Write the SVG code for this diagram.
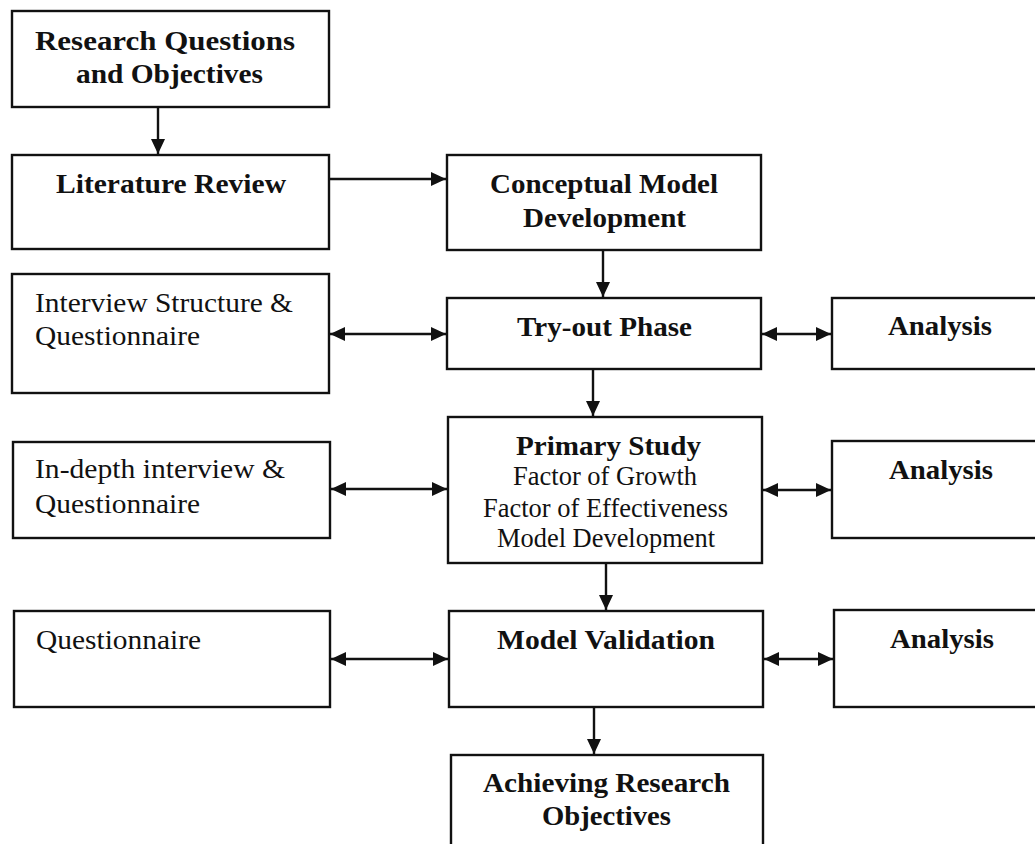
<svg xmlns="http://www.w3.org/2000/svg" width="1035" height="844" viewBox="0 0 1035 844">
<style>
.box{fill:#fff;stroke:#111;stroke-width:2.4}
.t{font-family:'Liberation Serif','Times New Roman',Times,serif;font-size:27px;fill:#111}
.b{font-weight:bold}
.c{stroke:#111;stroke-width:2.4;fill:none}
</style>
<defs>
<marker id="ah" markerUnits="userSpaceOnUse" markerWidth="16" markerHeight="15" refX="15" refY="7" orient="auto-start-reverse">
<path d="M0,0 L15,7 L0,14 Z" fill="#111"/>
</marker>
</defs>
<rect width="1035" height="844" fill="#fff"/>
<g id="connectors">
<line class="c" x1="158" y1="108" x2="158" y2="154" marker-end="url(#ah)"/>
<line class="c" x1="330" y1="179" x2="446" y2="179" marker-end="url(#ah)"/>
<line class="c" x1="603" y1="251" x2="603" y2="297" marker-end="url(#ah)"/>
<line class="c" x1="593" y1="370" x2="593" y2="416" marker-end="url(#ah)"/>
<line class="c" x1="606" y1="564" x2="606" y2="610" marker-end="url(#ah)"/>
<line class="c" x1="594" y1="708" x2="594" y2="754" marker-end="url(#ah)"/>
<line class="c" x1="330" y1="334" x2="446" y2="334" marker-start="url(#ah)" marker-end="url(#ah)"/>
<line class="c" x1="331" y1="489" x2="447" y2="489" marker-start="url(#ah)" marker-end="url(#ah)"/>
<line class="c" x1="331" y1="659" x2="448" y2="659" marker-start="url(#ah)" marker-end="url(#ah)"/>
<line class="c" x1="762" y1="334" x2="831" y2="334" marker-start="url(#ah)" marker-end="url(#ah)"/>
<line class="c" x1="763" y1="490" x2="831" y2="490" marker-start="url(#ah)" marker-end="url(#ah)"/>
<line class="c" x1="764" y1="659" x2="833" y2="659" marker-start="url(#ah)" marker-end="url(#ah)"/>
</g>
<g id="research-questions">
<rect class="box" x="12" y="11" width="317" height="96"/>
<text class="t b" x="35" y="50" textLength="260" lengthAdjust="spacingAndGlyphs">Research Questions</text>
<text class="t b" x="76" y="83" textLength="187" lengthAdjust="spacingAndGlyphs">and Objectives</text>
</g>
<g id="literature-review">
<rect class="box" x="12" y="155" width="317" height="94"/>
<text class="t b" x="56" y="193" textLength="230" lengthAdjust="spacingAndGlyphs">Literature Review</text>
</g>
<g id="conceptual-model">
<rect class="box" x="447" y="155" width="314" height="95"/>
<text class="t b" x="490" y="193" textLength="228" lengthAdjust="spacingAndGlyphs">Conceptual Model</text>
<text class="t b" x="523" y="227" textLength="163" lengthAdjust="spacingAndGlyphs">Development</text>
</g>
<g id="interview-structure">
<rect class="box" x="12" y="274" width="317" height="119"/>
<text class="t" x="35" y="312" textLength="258" lengthAdjust="spacingAndGlyphs">Interview Structure &amp;</text>
<text class="t" x="35" y="345" textLength="165" lengthAdjust="spacingAndGlyphs">Questionnaire</text>
</g>
<g id="try-out-phase">
<rect class="box" x="447" y="298" width="314" height="71"/>
<text class="t b" x="517" y="336" textLength="175" lengthAdjust="spacingAndGlyphs">Try-out Phase</text>
</g>
<g id="analysis-1">
<rect class="box" x="832" y="298" width="210" height="71"/>
<text class="t b" x="888" y="335" textLength="104" lengthAdjust="spacingAndGlyphs">Analysis</text>
</g>
<g id="in-depth-interview">
<rect class="box" x="13" y="442" width="317" height="96"/>
<text class="t" x="35" y="478" textLength="250" lengthAdjust="spacingAndGlyphs">In-depth interview &amp;</text>
<text class="t" x="35" y="513" textLength="165" lengthAdjust="spacingAndGlyphs">Questionnaire</text>
</g>
<g id="primary-study">
<rect class="box" x="448" y="417" width="314" height="146"/>
<text class="t b" x="516" y="455" textLength="185" lengthAdjust="spacingAndGlyphs">Primary Study</text>
<text class="t" x="513" y="485" textLength="184" lengthAdjust="spacingAndGlyphs">Factor of Growth</text>
<text class="t" x="483" y="517" textLength="245" lengthAdjust="spacingAndGlyphs">Factor of Effectiveness</text>
<text class="t" x="497" y="547" textLength="218" lengthAdjust="spacingAndGlyphs">Model Development</text>
</g>
<g id="analysis-2">
<rect class="box" x="832" y="441" width="210" height="97"/>
<text class="t b" x="889" y="479" textLength="104" lengthAdjust="spacingAndGlyphs">Analysis</text>
</g>
<g id="questionnaire">
<rect class="box" x="14" y="611" width="316" height="96"/>
<text class="t" x="36" y="649" textLength="165" lengthAdjust="spacingAndGlyphs">Questionnaire</text>
</g>
<g id="model-validation">
<rect class="box" x="449" y="611" width="314" height="96"/>
<text class="t b" x="497" y="649" textLength="218" lengthAdjust="spacingAndGlyphs">Model Validation</text>
</g>
<g id="analysis-3">
<rect class="box" x="834" y="610" width="210" height="97"/>
<text class="t b" x="890" y="648" textLength="104" lengthAdjust="spacingAndGlyphs">Analysis</text>
</g>
<g id="achieving-objectives">
<rect class="box" x="451" y="755" width="312" height="100"/>
<text class="t b" x="483" y="792" textLength="247" lengthAdjust="spacingAndGlyphs">Achieving Research</text>
<text class="t b" x="542" y="825" textLength="129" lengthAdjust="spacingAndGlyphs">Objectives</text>
</g>
</svg>
